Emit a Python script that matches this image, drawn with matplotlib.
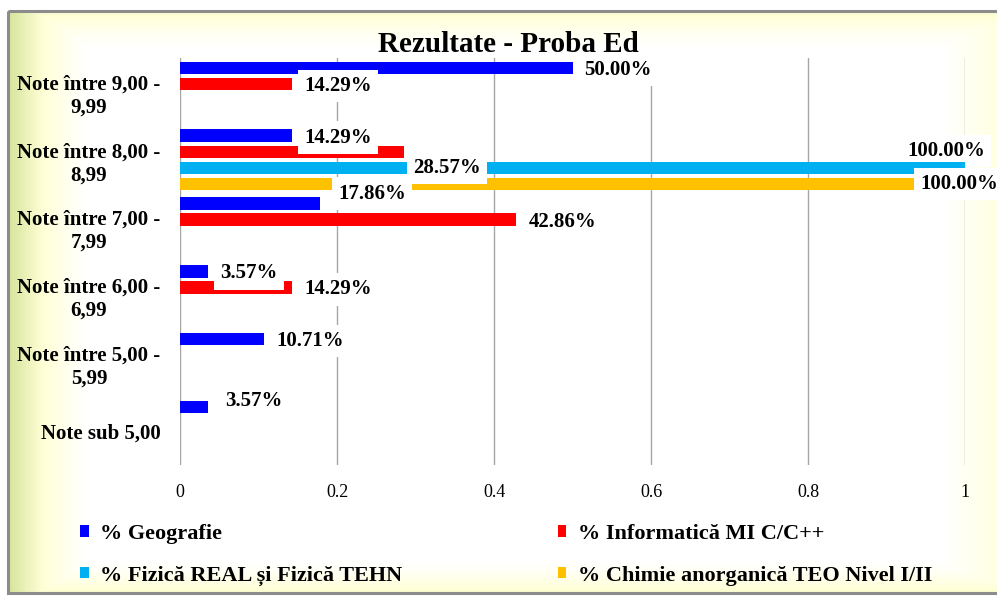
import numpy as np
import matplotlib.pyplot as plt
from matplotlib.colors import LinearSegmentedColormap
from matplotlib.patches import Rectangle, Patch

categories = ['Note între 9,00 -\n9,99', 'Note între 8,00 -\n8,99', 'Note între 7,00 -\n7,99',
              'Note între 6,00 -\n6,99', 'Note între 5,00 -\n5,99', 'Note sub 5,00']
series_names = ['% Geografie', '% Informatică MI C/C++',
                '% Fizică REAL și Fizică TEHN', '% Chimie anorganică TEO Nivel I/II']
geografie = [0.5, 0.1429, 0.1786, 0.0357, 0.1071, 0.0357]
informatica = [0.1429, 0.2857, 0.4286, 0.1429, 0, 0]
fizica = [0, 1.0, 0, 0, 0, 0]
chimie = [0, 1.0, 0, 0, 0, 0]
x_ticks = [0, 0.2, 0.4, 0.6, 0.8, 1]
x_tick_labels = ['0', '0.2', '0.4', '0.6', '0.8', '1']

colors = ['#0000FF', '#FF0000', '#00B0F0', '#FFC000']
serif = 'Liberation Serif'

# label offsets (pixels) for labels moved by hand in the original
default_off = (12, -2)
label_off = {(1, 1): (9, -16), (2, 1): (-58, 17), (3, 1): (-45, 0),
             (0, 2): (18, 10), (0, 5): (17, 6)}

W, H = 997, 596
fig = plt.figure(figsize=(W / 100, H / 100), dpi=100)

# background with soft glow
bg = fig.add_axes([0, 0, 1, 1], zorder=0)
yy, xx = np.mgrid[0:H, 0:W]
t_left = np.clip(1 - (xx - 8) / 80, 0, 1) ** 1.2
t_top = np.clip(1 - (yy - 11) / 40, 0, 1) ** 1.5 * 0.6
t_bot = np.clip(1 - (593 - yy) / 35, 0, 1) ** 1.5 * 0.6
t_right = np.clip(1 - (1030 - xx) / 90, 0, 1) * 0.55
t = np.maximum.reduce([t_left, t_top, t_bot, t_right])
t[(xx < 8) | (yy < 11) | (yy > 593)] = 0
cmap = LinearSegmentedColormap.from_list('glow', ['#FFFFFF', '#FFFFD6', '#D6E49C'])
bg.imshow(t, cmap=cmap, vmin=0, vmax=1, extent=(0, W, H, 0), aspect='auto')
bg.add_patch(Rectangle((8, 11), W + 20, 582, fill=False, edgecolor='#8C8C8C', lw=2.2))
bg.set_xlim(0, W)
bg.set_ylim(H, 0)
bg.axis('off')

ax = fig.add_axes([180 / W, 1 - 465 / H, 785 / W, 407 / H], zorder=1)
ax.set_facecolor('none')

all_series = [geografie, informatica, fizica, chimie]
step, h = 0.236, 0.184
y = np.arange(len(categories))
for k, vals in enumerate(all_series):
    pos = y + (k - 1.5) * step
    ax.barh(pos, vals, height=h, color=colors[k], zorder=2, linewidth=0)
    for i, v in enumerate(vals):
        if v <= 0:
            continue
        dx, dy = label_off.get((k, i), default_off)
        z = 1.5 if (k, i) == (2, 1) else 5
        ax.annotate(f'{v * 100:.2f}%', xy=(v, pos[i]), xytext=(dx, dy),
                    textcoords='offset pixels', ha='left', va='center',
                    fontsize=15, fontweight='bold', family=serif, zorder=z,
                    annotation_clip=False,
                    bbox=dict(boxstyle='square,pad=0.3', facecolor='white', edgecolor='none'))

ax.set_xlim(0, 1)
ax.set_ylim(len(categories) - 0.5, -0.5)
ax.set_yticks(y)
ax.set_yticklabels(categories, fontsize=15, fontweight='bold', family=serif,
                   multialignment='center', linespacing=1.2)
ax.set_xticks(x_ticks)
ax.set_xticklabels(x_tick_labels, fontsize=13, family=serif)
ax.tick_params(axis='y', length=0, pad=14)
ax.tick_params(axis='x', length=0, pad=14)
ax.grid(axis='x', color='#A6A6A6', lw=1, zorder=0)
ax.set_axisbelow(True)
for s in ax.spines.values():
    s.set_visible(False)

fig.text(508 / W, 1 - 45 / H, 'Rezultate - Proba Ed', ha='center', va='center',
         fontsize=21, fontweight='bold', family=serif)

order = [0, 2, 1, 3]
handles = [Patch(facecolor=colors[k], edgecolor='none') for k in order]
labels = [series_names[k] for k in order]
leg = fig.legend(handles, labels, ncol=2, loc='upper left',
                 bbox_to_anchor=(71 / W, 1 - 515 / H), frameon=False,
                 borderaxespad=0, prop=dict(family=serif, size=16, weight='bold'),
                 handlelength=0.4, handleheight=0.4, handletextpad=0.5,
                 labelspacing=0.98, columnspacing=7.0)

fig.savefig('out.png', dpi=100)
